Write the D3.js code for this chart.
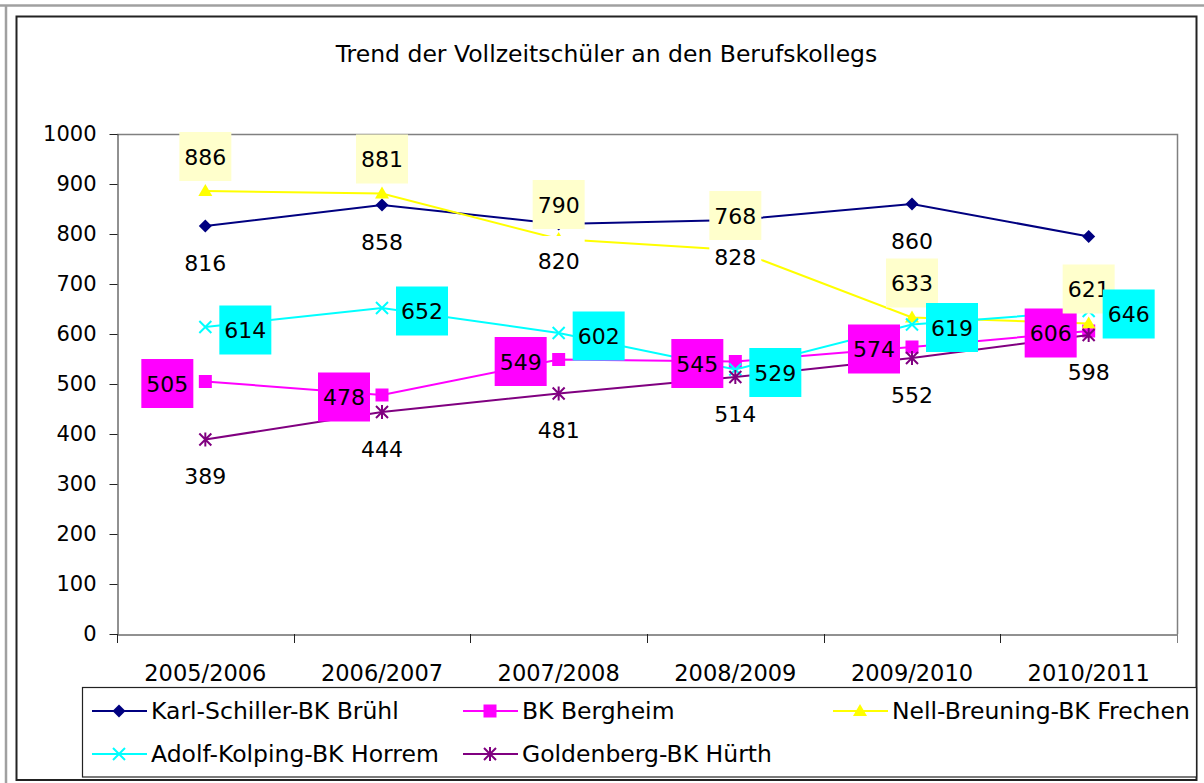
<!DOCTYPE html>
<html>
<head>
<meta charset="utf-8">
<script src="https://cdn.jsdelivr.net/npm/d3@7"></script>
<style>
  body { margin: 0; background: #fff; }
  text { font-family: "DejaVu Sans", Verdana, sans-serif; fill: #000; }
</style>
</head>
<body>
<div class="chart"></div>
<script>
const categories = ["2005/2006", "2006/2007", "2007/2008", "2008/2009", "2009/2010", "2010/2011"];
const seriesNames = [
  "Karl-Schiller-BK Brühl",
  "BK Bergheim",
  "Nell-Breuning-BK Frechen",
  "Adolf-Kolping-BK Horrem",
  "Goldenberg-BK Hürth",
];
const bruehl = [816, 858, 820, 828, 860, 795];
const bergheim = [505, 478, 549, 545, 574, 606];
const frechen = [886, 881, 790, 768, 633, 621];
const horrem = [614, 652, 602, 529, 619, 646];
const huerth = [389, 444, 481, 514, 552, 598];
const yTicks = [0, 100, 200, 300, 400, 500, 600, 700, 800, 900, 1000];

const series = [
  { name: seriesNames[0], values: bruehl, color: "#000080", marker: "diamond", label: "below", box: "#ffffff" },
  { name: seriesNames[1], values: bergheim, color: "#ff00ff", marker: "square", label: "left", box: "#ff00ff" },
  { name: seriesNames[2], values: frechen, color: "#ffff00", marker: "triangle", label: "above", box: "#ffffcc" },
  { name: seriesNames[3], values: horrem, color: "#00ffff", marker: "x", label: "right", box: "#00ffff" },
  { name: seriesNames[4], values: huerth, color: "#800080", marker: "star", label: "below", box: null },
];

const W = 1204, H = 783;
const plot = { left: 117, right: 1177, top: 134, bottom: 634 };

const svg = d3
  .select(".chart")
  .append("svg")
  .attr("width", W)
  .attr("height", H);

// outer frames
svg.append("line").attr("x1", 0).attr("x2", W).attr("y1", 5.5).attr("y2", 5.5)
  .attr("stroke", "#a0a0a0").attr("stroke-width", 2.5);
svg.append("line").attr("x1", 6).attr("x2", 6).attr("y1", 5).attr("y2", H)
  .attr("stroke", "#a0a0a0").attr("stroke-width", 2.5);
svg.append("rect").attr("x", 16.5).attr("y", 16.5).attr("width", 1180).attr("height", 763.5)
  .attr("fill", "#fff").attr("stroke", "#222").attr("stroke-width", 2);

svg.append("text")
  .attr("x", 606.5)
  .attr("y", 62)
  .attr("text-anchor", "middle")
  .style("font-size", "23.5px")
  .text("Trend der Vollzeitschüler an den Berufskollegs");

const xScale = d3.scaleBand().domain(categories).range([plot.left, plot.right]);
const yScale = d3.scaleLinear().domain([0, 1000]).range([plot.bottom, plot.top]);
const cx = (i) => xScale(categories[i]) + xScale.bandwidth() / 2;

// plot area border (grey)
svg.append("path")
  .attr("d", `M${plot.left},${plot.top + 0.5}H${plot.right + 0.5}V${plot.bottom}`)
  .attr("fill", "none").attr("stroke", "#808080").attr("stroke-width", 1.5);

// y axis
const yAxis = svg.append("g")
  .attr("transform", `translate(${plot.left + 0.5},0)`)
  .call(d3.axisLeft(yScale).tickValues(yTicks).tickFormat(d3.format("d"))
    .tickSize(8).tickPadding(13).tickSizeOuter(0));
yAxis.selectAll("text").style("font-size", "21px").style("font-family", "DejaVu Sans");
yAxis.selectAll("line, path").attr("stroke", "#222");

// x axis: labels at band centres, ticks at band edges
const xAxis = svg.append("g")
  .attr("transform", `translate(0,${plot.bottom + 0.5})`)
  .call(d3.axisBottom(xScale).tickSize(0).tickPadding(31));
xAxis.selectAll("text").style("font-size", "22.5px").style("font-family", "DejaVu Sans");
xAxis.select(".domain").attr("stroke", "#222");
svg.append("g")
  .selectAll("line")
  .data(categories.concat(["end"]))
  .enter()
  .append("line")
  .attr("x1", (d, i) => Math.round(plot.left + i * xScale.bandwidth()) + 0.5)
  .attr("x2", (d, i) => Math.round(plot.left + i * xScale.bandwidth()) + 0.5)
  .attr("y1", plot.bottom)
  .attr("y2", plot.bottom + 9)
  .attr("stroke", (d, i) => (i === categories.length ? "#808080" : "#222"));

function drawMarker(g, type, color, x, y) {
  if (type === "diamond") {
    g.append("path").attr("d", `M${x},${y - 6.5}L${x + 6.5},${y}L${x},${y + 6.5}L${x - 6.5},${y}Z`).attr("fill", color);
  } else if (type === "square") {
    g.append("rect").attr("x", x - 6.5).attr("y", y - 6.5).attr("width", 13).attr("height", 13).attr("fill", color);
  } else if (type === "triangle") {
    g.append("path").attr("d", `M${x},${y - 7}L${x + 7},${y + 5}L${x - 7},${y + 5}Z`).attr("fill", color);
  } else if (type === "x") {
    g.append("path").attr("d", `M${x - 6},${y - 6}L${x + 6},${y + 6}M${x + 6},${y - 6}L${x - 6},${y + 6}`)
      .attr("stroke", color).attr("stroke-width", 2);
  } else if (type === "star") {
    g.append("path").attr("d", `M${x - 6},${y - 6}L${x + 6},${y + 6}M${x + 6},${y - 6}L${x - 6},${y + 6}M${x},${y - 7}V${y + 7}`)
      .attr("stroke", color).attr("stroke-width", 2);
  }
}

const line = d3.line()
  .x((d, i) => cx(i))
  .y((d) => yScale(d));

const linesG = svg.append("g");
series.forEach((s) => {
  linesG.append("path")
    .datum(s.values)
    .attr("d", line)
    .attr("fill", "none")
    .attr("stroke", s.color)
    .attr("stroke-width", 2);
  s.values.forEach((v, i) => drawMarker(linesG, s.marker, s.color, cx(i), yScale(v)));
});

// data labels (drawn series by series, so later boxes cover earlier ones)
const labelsG = svg.append("g");
series.forEach((s) => {
  s.values.forEach((v, i) => {
    let x = cx(i), y = yScale(v);
    if (s.label === "above") y -= 34;
    else if (s.label === "below") y += 37;
    else if (s.label === "left") { x -= 38; y += 2.5; }
    else if (s.label === "right") { x += 40; y += 3.5; }
    if (s.box) {
      labelsG.append("rect")
        .attr("x", x - 26).attr("y", y - 25)
        .attr("width", 52).attr("height", 49)
        .attr("fill", s.box);
    }
    labelsG.append("text")
      .attr("x", x)
      .attr("y", y)
      .attr("dy", "0.36em")
      .attr("text-anchor", "middle")
      .style("font-size", "22px")
      .text(v);
  });
});

// legend
const legend = svg.append("g");
legend.append("rect")
  .attr("x", 82.5).attr("y", 687.5).attr("width", 1114).attr("height", 89.5)
  .attr("fill", "#fff").attr("stroke", "#222").attr("stroke-width", 1.2);
const legendPos = [[92, 711], [463, 711], [833, 711], [92, 754], [463, 754]];
series.forEach((s, i) => {
  const [lx, ly] = legendPos[i];
  legend.append("line")
    .attr("x1", lx).attr("x2", lx + 55).attr("y1", ly).attr("y2", ly)
    .attr("stroke", s.color).attr("stroke-width", 2);
  drawMarker(legend, s.marker, s.color, lx + 27, ly);
  legend.append("text")
    .attr("x", lx + 59)
    .attr("y", ly)
    .attr("dy", "0.36em")
    .style("font-size", "23.5px")
    .text(s.name);
});
</script>
</body>
</html>
